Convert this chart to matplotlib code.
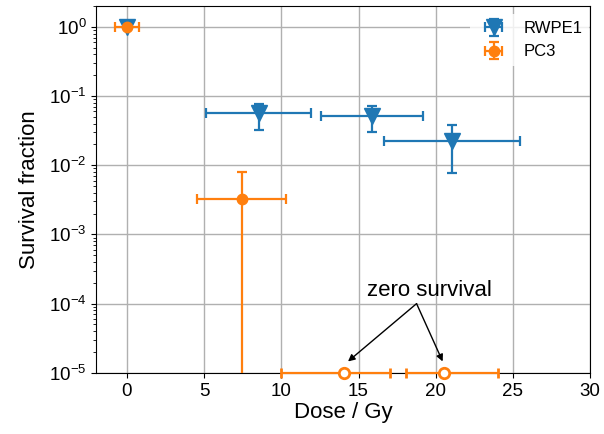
import matplotlib
matplotlib.use("Agg")
import matplotlib.pyplot as plt
import numpy as np

plt.rcParams['font.family'] = ['Liberation Sans', 'DejaVu Sans']

# RWPE1 survival data
rwpeDose = [0.0, 8.55, 15.85, 21.05]
rwpeDoseLo = [0.0, 3.45, 3.3, 4.4]
rwpeDoseHi = [0.0, 3.35, 3.3, 4.4]
rwpeSurv = [1.0, 0.057, 0.052, 0.0228]
rwpeSurvLo = [0.0, 0.025, 0.022, 0.0151]
rwpeSurvHi = [0.0, 0.021, 0.020, 0.0152]

# PC3 survival data
pcDose = [0.0, 7.43]
pcDoseErr = [0.8, 2.9]
pcSurv = [1.0, 0.00327]
pcSurvLo = [0.0, 0.0033]
pcSurvHi = [0.0, 0.0048]

# PC3 zero survival points
zeroDose = [14.05, 20.55]
zeroDoseLo = [4.1, 2.45]
zeroDoseHi = [3.0, 3.5]
zeroSurv = [1e-5, 1e-5]

fig = plt.figure(figsize=(6.04, 4.34), dpi=100)
ax = fig.add_axes([0.159, 0.141, 0.818, 0.845])
ax.set_yscale('log')

ax.errorbar(rwpeDose, rwpeSurv, xerr=[rwpeDoseLo, rwpeDoseHi], yerr=[rwpeSurvLo, rwpeSurvHi],
	fmt='v', color='#1f77b4', markersize=11, capsize=3.5, elinewidth=1.6, capthick=1.6, label='RWPE1', zorder=3)
ax.errorbar(pcDose, pcSurv, xerr=pcDoseErr, yerr=[pcSurvLo, pcSurvHi],
	fmt='o', color='#ff7f0e', markersize=7.5, capsize=3.5, elinewidth=1.6, capthick=1.6, label='PC3', zorder=3)
ax.errorbar(zeroDose, zeroSurv, xerr=[zeroDoseLo, zeroDoseHi], fmt='o', color='#ff7f0e',
	markerfacecolor='white', markeredgewidth=2, markersize=7.5, capsize=3.5, elinewidth=1.6, capthick=1.6,
	clip_on=False, zorder=4)

# annotation for the zero survival points
ax.text(19.6, 1.3e-4, 'zero survival', fontsize=16, ha='center', va='baseline')
for tip in [14.32, 20.45]:
	ax.annotate('', xy=(tip, 1.46e-5), xytext=(18.76, 1.0e-4),
		arrowprops=dict(arrowstyle='-|>', color='black', lw=1, shrinkA=0, shrinkB=0))

ax.set_xlim(-2, 30)
ax.set_ylim(1e-5, 2)
ax.grid(True, which='major', color='#b0b0b0', lw=1)
ax.set_axisbelow(True)
ax.tick_params(labelsize=13.5)
ax.set_xlabel('Dose / Gy', fontsize=16, labelpad=1.5)
ax.set_ylabel('Survival fraction', fontsize=16, labelpad=6)
leg = ax.legend(loc='upper right', fontsize=12, frameon=True, bbox_to_anchor=(1.015, 1.0))
leg.get_frame().set_edgecolor('none')

fig.savefig('out.png', dpi=100)
